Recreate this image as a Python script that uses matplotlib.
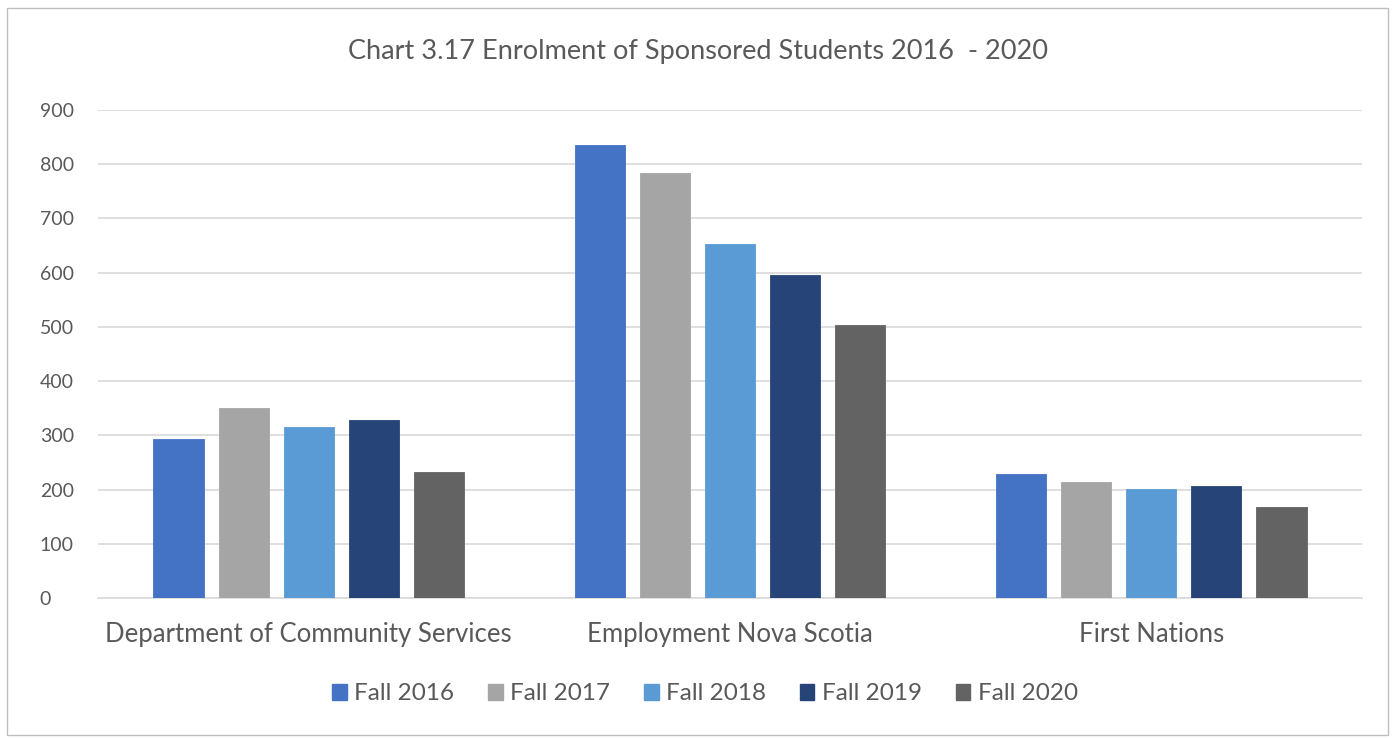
import matplotlib
matplotlib.use("Agg")
import matplotlib.pyplot as plt
import numpy as np
from matplotlib.patches import Rectangle

categories = ["Department of Community Services", "Employment Nova Scotia", "First Nations"]
series_names = ["Fall 2016", "Fall 2017", "Fall 2018", "Fall 2019", "Fall 2020"]
fall_2016 = [293, 835, 229]
fall_2017 = [350, 784, 214]
fall_2018 = [315, 653, 201]
fall_2019 = [328, 596, 207]
fall_2020 = [232, 503, 168]
series_values = [fall_2016, fall_2017, fall_2018, fall_2019, fall_2020]
colors = ["#4472C4", "#A5A5A5", "#5B9BD5", "#264478", "#636363"]
yticks = [0, 100, 200, 300, 400, 500, 600, 700, 800, 900]

plt.rcParams['font.family'] = ['Lato', 'DejaVu Sans']
text_color = "#595959"

fig = plt.figure(figsize=(13.95, 7.38), dpi=100)
fig.patches.append(Rectangle((0.005, 0.004), 0.99, 0.985, transform=fig.transFigure,
                             fill=False, edgecolor="#BFBFBF", linewidth=1.0))

ax = fig.add_axes([98/1395, 1 - 598/738, (1362-98)/1395, (598-110)/738])
x = np.arange(len(categories))
step = 0.1545
width = 0.119
for i, (name, vals, c) in enumerate(zip(series_names, series_values, colors)):
    ax.bar(x + (i - 2) * step, vals, width, color=c, label=name,
           edgecolor=c, linewidth=0.6, zorder=3)

ax.set_xlim(-0.5, 2.5)
ax.set_ylim(0, 900)
ax.set_yticks(yticks)
ax.set_yticklabels([str(t) for t in yticks], color=text_color, fontsize=14)
ax.set_xticks(x)
ax.set_xticklabels(categories, color=text_color, fontsize=18.5)
ax.tick_params(axis='both', length=0)
ax.tick_params(axis='y', pad=42)
ax.tick_params(axis='x', pad=17)
ax.grid(axis='y', color="#D9D9D9", linewidth=1.2, zorder=0)
for s in ["top", "right", "left"]:
    ax.spines[s].set_visible(False)
ax.spines["bottom"].set_color("#D9D9D9")
ax.spines["bottom"].set_linewidth(1.2)
for lbl in ax.get_yticklabels():
    lbl.set_horizontalalignment('left')

fig.text(0.5, 1 - 52/738, "Chart 3.17 Enrolment of Sponsored Students 2016  - 2020",
         ha='center', va='center', color=text_color, fontsize=19.5)

handles = [Rectangle((0, 0), 1, 1, color=c) for c in colors]
fig.legend(handles, series_names, loc='center', bbox_to_anchor=(705/1395, 1 - 694/738),
           ncol=5, frameon=False, fontsize=17.5, labelcolor=text_color,
           handlelength=0.6, handleheight=0.6, handletextpad=0.3, columnspacing=1.4)

fig.savefig("out.png", dpi=100)
